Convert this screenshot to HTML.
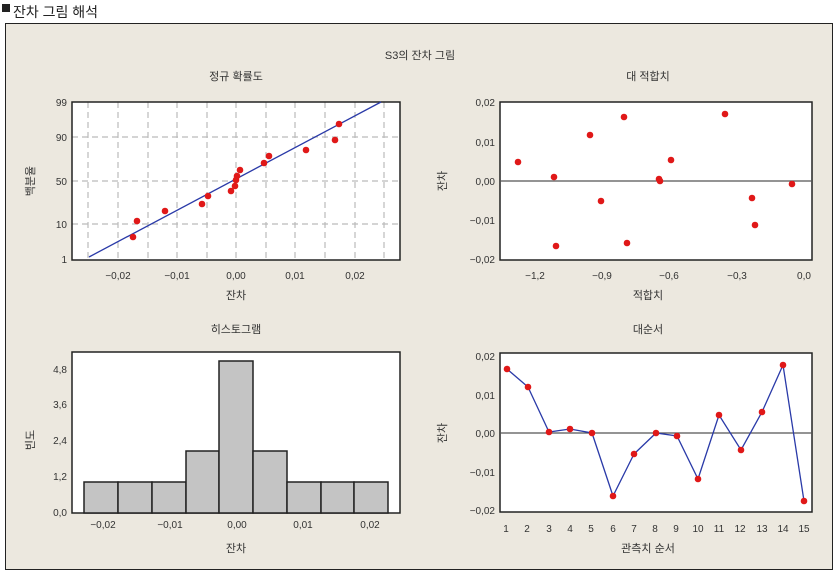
<!DOCTYPE html>
<html><head><meta charset="utf-8"><style>
html,body{margin:0;padding:0;background:#fff;}
svg{display:block;font-family:"Liberation Sans","Noto Sans CJK KR",sans-serif;}
</style></head><body>
<svg width="837" height="576" viewBox="0 0 837 576" xmlns="http://www.w3.org/2000/svg">
<rect x="0" y="0" width="837" height="576" fill="#fff"/>
<rect x="2" y="4" width="8" height="8" fill="#222"/>
<text x="13" y="17" font-size="14" fill="#222">잔차 그림 해석</text>
<rect x="5.5" y="23.5" width="827" height="546" fill="#ece8df" stroke="#222" stroke-width="1"/>
<g font-size="11" fill="#333" text-anchor="middle">
<text x="420" y="59">S3의 잔차 그림</text>
<text x="236" y="80">정규 확률도</text>
<text x="648" y="80">대 적합치</text>
<text x="236" y="333">히스토그램</text>
<text x="648" y="333">대순서</text>
<text x="236" y="299">잔차</text>
<text x="648" y="299">적합치</text>
<text x="236" y="552">잔차</text>
<text x="648" y="552">관측치 순서</text>
<text transform="translate(34,181) rotate(-90)">백분율</text>
<text transform="translate(34,440) rotate(-90)">빈도</text>
<text transform="translate(446,181) rotate(-90)">잔차</text>
<text transform="translate(446,433) rotate(-90)">잔차</text>
</g>

<!-- Plot 1 -->
<rect x="72" y="102" width="328" height="158" fill="#fff"/>
<g stroke="#bbb" stroke-dasharray="6,4" stroke-width="1.2">
<line x1="88" y1="102" x2="88" y2="260"/><line x1="118" y1="102" x2="118" y2="260"/>
<line x1="148" y1="102" x2="148" y2="260"/><line x1="177" y1="102" x2="177" y2="260"/>
<line x1="207" y1="102" x2="207" y2="260"/><line x1="236" y1="102" x2="236" y2="260"/>
<line x1="266" y1="102" x2="266" y2="260"/><line x1="295" y1="102" x2="295" y2="260"/>
<line x1="325" y1="102" x2="325" y2="260"/><line x1="355" y1="102" x2="355" y2="260"/>
<line x1="384" y1="102" x2="384" y2="260"/>
<line x1="72" y1="137" x2="400" y2="137"/><line x1="72" y1="181" x2="400" y2="181"/>
<line x1="72" y1="224" x2="400" y2="224"/>
</g>
<rect x="72" y="102" width="328" height="158" fill="none" stroke="#222" stroke-width="1.5"/>
<line x1="89" y1="257" x2="381" y2="102" stroke="#2a3aa8" stroke-width="1.3"/>
<g fill="#e01818">
<circle cx="133" cy="237" r="3.3"/><circle cx="137" cy="221" r="3.3"/><circle cx="165" cy="211" r="3.3"/>
<circle cx="202" cy="204" r="3.3"/><circle cx="208" cy="196" r="3.3"/><circle cx="231" cy="191" r="3.3"/>
<circle cx="235" cy="186" r="3.3"/><circle cx="236" cy="180" r="3.3"/><circle cx="237" cy="176" r="3.3"/>
<circle cx="240" cy="170" r="3.3"/><circle cx="264" cy="163" r="3.3"/><circle cx="269" cy="156" r="3.3"/>
<circle cx="306" cy="150" r="3.3"/><circle cx="335" cy="140" r="3.3"/><circle cx="339" cy="124" r="3.3"/>
</g>
<g font-size="10" fill="#333" text-anchor="end">
<text x="67" y="106">99</text><text x="67" y="141">90</text><text x="67" y="185">50</text>
<text x="67" y="228">10</text><text x="67" y="263">1</text>
</g>
<g font-size="10" fill="#333" text-anchor="middle">
<text x="118" y="279">−0,02</text><text x="177" y="279">−0,01</text><text x="236" y="279">0,00</text>
<text x="295" y="279">0,01</text><text x="355" y="279">0,02</text>
</g>

<!-- Plot 2 -->
<rect x="500" y="102" width="312" height="158" fill="#fff" stroke="#222" stroke-width="1.5"/>
<line x1="500" y1="181" x2="812" y2="181" stroke="#555" stroke-width="1.2"/>
<g fill="#e01818">
<circle cx="518" cy="162" r="3.3"/><circle cx="554" cy="177" r="3.3"/><circle cx="556" cy="246" r="3.3"/>
<circle cx="590" cy="135" r="3.3"/><circle cx="601" cy="201" r="3.3"/><circle cx="624" cy="117" r="3.3"/>
<circle cx="627" cy="243" r="3.3"/><circle cx="659" cy="179" r="3.3"/><circle cx="660" cy="181" r="3.3"/>
<circle cx="671" cy="160" r="3.3"/><circle cx="725" cy="114" r="3.3"/><circle cx="752" cy="198" r="3.3"/>
<circle cx="755" cy="225" r="3.3"/><circle cx="792" cy="184" r="3.3"/>
</g>
<g font-size="10" fill="#333" text-anchor="end">
<text x="495" y="106">0,02</text><text x="495" y="146">0,01</text><text x="495" y="185">0,00</text>
<text x="495" y="224">−0,01</text><text x="495" y="263">−0,02</text>
</g>
<g font-size="10" fill="#333" text-anchor="middle">
<text x="535" y="279">−1,2</text><text x="602" y="279">−0,9</text><text x="669" y="279">−0,6</text>
<text x="737" y="279">−0,3</text><text x="804" y="279">0,0</text>
</g>

<!-- Plot 3 -->
<rect x="72" y="352" width="328" height="161" fill="#fff" stroke="#222" stroke-width="1.5"/>
<g fill="#c4c4c4" stroke="#222" stroke-width="1.5">
<rect x="84" y="482" width="34" height="31"/><rect x="118" y="482" width="34" height="31"/>
<rect x="152" y="482" width="34" height="31"/><rect x="186" y="451" width="33" height="62"/>
<rect x="219" y="361" width="34" height="152"/><rect x="253" y="451" width="34" height="62"/>
<rect x="287" y="482" width="34" height="31"/><rect x="321" y="482" width="33" height="31"/>
<rect x="354" y="482" width="34" height="31"/>
</g>
<g font-size="10" fill="#333" text-anchor="end">
<text x="67" y="373">4,8</text><text x="67" y="408">3,6</text><text x="67" y="444">2,4</text>
<text x="67" y="480">1,2</text><text x="67" y="516">0,0</text>
</g>
<g font-size="10" fill="#333" text-anchor="middle">
<text x="103" y="528">−0,02</text><text x="170" y="528">−0,01</text><text x="237" y="528">0,00</text>
<text x="303" y="528">0,01</text><text x="370" y="528">0,02</text>
</g>

<!-- Plot 4 -->
<rect x="500" y="353" width="312" height="159" fill="#fff" stroke="#222" stroke-width="1.5"/>
<line x1="500" y1="433" x2="812" y2="433" stroke="#555" stroke-width="1.2"/>
<polyline fill="none" stroke="#2a3aa8" stroke-width="1.3" points="507,369 528,387 549,432 570,429 592,433 613,496 634,454 656,433 677,436 698,479 719,415 741,450 762,412 783,365 804,501"/>
<g fill="#e01818">
<circle cx="507" cy="369" r="3.3"/><circle cx="528" cy="387" r="3.3"/><circle cx="549" cy="432" r="3.3"/>
<circle cx="570" cy="429" r="3.3"/><circle cx="592" cy="433" r="3.3"/><circle cx="613" cy="496" r="3.3"/>
<circle cx="634" cy="454" r="3.3"/><circle cx="656" cy="433" r="3.3"/><circle cx="677" cy="436" r="3.3"/>
<circle cx="698" cy="479" r="3.3"/><circle cx="719" cy="415" r="3.3"/><circle cx="741" cy="450" r="3.3"/>
<circle cx="762" cy="412" r="3.3"/><circle cx="783" cy="365" r="3.3"/><circle cx="804" cy="501" r="3.3"/>
</g>
<g font-size="10" fill="#333" text-anchor="end">
<text x="495" y="360">0,02</text><text x="495" y="399">0,01</text><text x="495" y="437">0,00</text>
<text x="495" y="476">−0,01</text><text x="495" y="514">−0,02</text>
</g>
<g font-size="10" fill="#333" text-anchor="middle">
<text x="506" y="532">1</text><text x="527" y="532">2</text><text x="549" y="532">3</text>
<text x="570" y="532">4</text><text x="591" y="532">5</text><text x="613" y="532">6</text>
<text x="634" y="532">7</text><text x="655" y="532">8</text><text x="676" y="532">9</text>
<text x="698" y="532">10</text><text x="719" y="532">11</text><text x="740" y="532">12</text>
<text x="762" y="532">13</text><text x="783" y="532">14</text><text x="804" y="532">15</text>
</g>
</svg>
</body></html>
